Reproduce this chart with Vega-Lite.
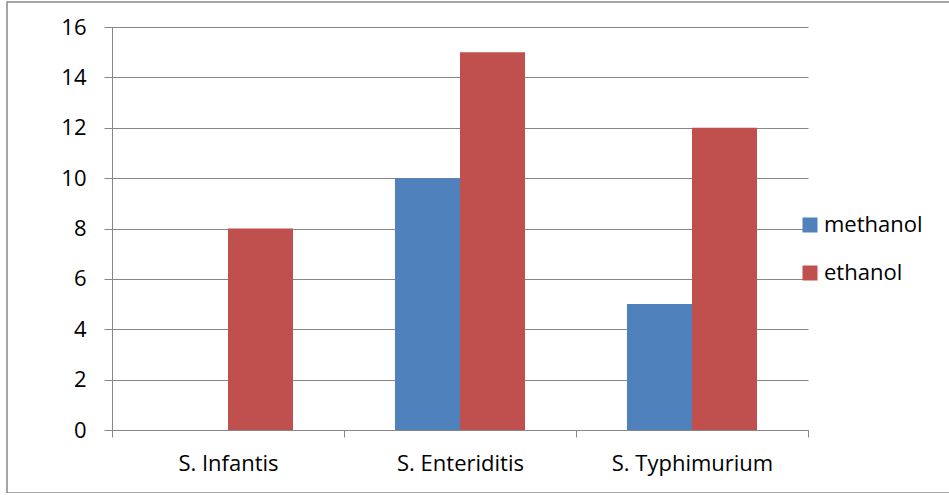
{
  "$schema": "https://vega.github.io/schema/vega-lite/v6.json",
  "width": 943,
  "height": 491,
  "autosize": {"type": "none"},
  "padding": {"left": 7, "top": 2, "right": 0, "bottom": 0},
  "background": "white",
  "config": {
    "font": "Open Sans",
    "view": {"stroke": "#898989", "strokeWidth": 1.5}
  },
  "data": {
    "values": [
      {"strain": "S. Infantis", "solvent": "methanol", "value": 0},
      {"strain": "S. Infantis", "solvent": "ethanol", "value": 8},
      {"strain": "S. Enteriditis", "solvent": "methanol", "value": 10},
      {"strain": "S. Enteriditis", "solvent": "ethanol", "value": 15},
      {"strain": "S. Typhimurium", "solvent": "methanol", "value": 5},
      {"strain": "S. Typhimurium", "solvent": "ethanol", "value": 12}
    ]
  },
  "mark": {"type": "bar"},
  "encoding": {
    "x": {
      "field": "strain",
      "type": "nominal",
      "sort": ["S. Infantis", "S. Enteriditis", "S. Typhimurium"],
      "scale": {"range": [105, 801], "paddingInner": 0, "paddingOuter": 0},
      "axis": {
        "title": null,
        "offset": -63,
        "tickBand": "extent",
        "tickSize": 7,
        "tickColor": "#878787",
        "domainColor": "#878787",
        "labelAngle": 0,
        "labelFontSize": 22,
        "labelColor": "black",
        "labelPadding": 16,
        "grid": false
      }
    },
    "xOffset": {
      "field": "solvent",
      "type": "nominal",
      "sort": ["methanol", "ethanol"],
      "scale": {"paddingInner": 0, "paddingOuter": 0.7846}
    },
    "y": {
      "field": "value",
      "type": "quantitative",
      "scale": {"domain": [0, 16], "range": [428, 25], "nice": false},
      "axis": {
        "title": null,
        "offset": -105,
        "values": [0, 2, 4, 6, 8, 10, 12, 14, 16],
        "grid": true,
        "gridColor": "#878787",
        "domainColor": "#878787",
        "tickColor": "#878787",
        "tickSize": 8,
        "labelPadding": 18,
        "labelFontSize": 22,
        "labelColor": "black"
      }
    },
    "color": {
      "field": "solvent",
      "type": "nominal",
      "sort": ["methanol", "ethanol"],
      "scale": {"domain": ["methanol", "ethanol"], "range": ["#4F81BD", "#C0504D"]},
      "legend": {
        "title": null,
        "orient": "none",
        "legendX": 792,
        "legendY": 212,
        "labelFontSize": 22,
        "labelColor": "black",
        "symbolType": "square",
        "symbolSize": 225,
        "symbolStrokeWidth": 0,
        "rowPadding": 26,
        "labelOffset": 3
      }
    }
  }
}
